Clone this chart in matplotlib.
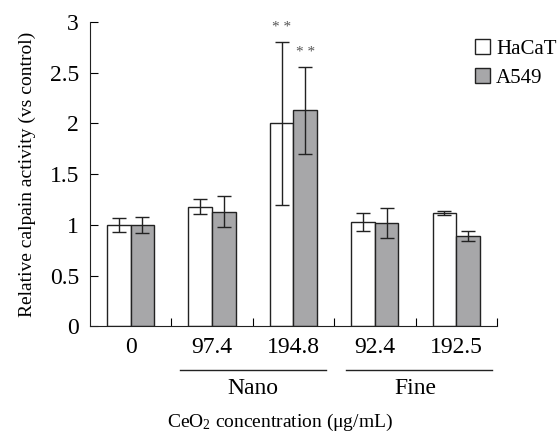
import numpy as np
import matplotlib
matplotlib.use('Agg')
import matplotlib.pyplot as plt

plt.rcParams['font.family'] = ['Liberation Serif', 'DejaVu Serif']
plt.rcParams['mathtext.fontset'] = 'custom'
plt.rcParams['mathtext.rm'] = 'Liberation Serif'
plt.rcParams['mathtext.it'] = 'Liberation Serif:italic'

labels = ['0', '97.4', '194.8', '92.4', '192.5']
hacat = [1.0, 1.18, 2.0, 1.03, 1.12]
hacat_err = [0.07, 0.07, 0.80, 0.09, 0.02]
a549 = [1.0, 1.13, 2.13, 1.02, 0.89]
a549_err = [0.08, 0.15, 0.43, 0.15, 0.05]
stars = ['', '', '**', '', '']

fig = plt.figure(figsize=(5.59, 4.42), dpi=100)
ax = fig.add_axes([0.161, 0.262, 0.728, 0.688])

x = np.arange(len(labels))
w = 0.29
ekw = dict(elinewidth=1, capthick=1, ecolor='#222222')
ax.bar(x - w / 2, hacat, w, yerr=hacat_err, capsize=5, color='white',
       edgecolor='#222222', linewidth=1, error_kw=ekw, label='HaCaT')
ax.bar(x + w / 2, a549, w, yerr=a549_err, capsize=5, color='#a7a7a9',
       edgecolor='#222222', linewidth=1, error_kw=ekw, label='A549')

for i, s in enumerate(stars):
    if s:
        ax.text(x[i] - w / 2, hacat[i] + hacat_err[i] + 0.08, '* *', ha='center',
                va='bottom', fontsize=11, color='#555555')
        ax.text(x[i] + w / 2, a549[i] + a549_err[i] + 0.08, '* *', ha='center',
                va='bottom', fontsize=11, color='#555555')

ax.set_xlim(-0.5, 4.5)
ax.set_ylim(0, 3)
ax.set_yticks([0, 0.5, 1, 1.5, 2, 2.5, 3])
ax.set_yticklabels(['0', '0.5', '1', '1.5', '2', '2.5', '3'])
ax.tick_params(axis='y', direction='in', length=6, labelsize=17, pad=8)

# boundary ticks pointing up, labels at group centres
ax.set_xticks(np.arange(0.5, 5, 1))
ax.set_xticklabels([])
ax.tick_params(axis='x', which='major', direction='in', length=6)
ax.set_xticks(x, minor=True)
ax.set_xticklabels(labels, minor=True)
ax.tick_params(axis='x', which='minor', length=0, labelsize=17, pad=8)

for sp in ['top', 'right']:
    ax.spines[sp].set_visible(False)
for sp in ['left', 'bottom']:
    ax.spines[sp].set_color('#222222')

# group brackets
tr = ax.get_xaxis_transform()
ax.plot([0.61, 2.40], [-0.145, -0.145], color='#222222', lw=1, transform=tr, clip_on=False)
ax.plot([2.64, 4.44], [-0.145, -0.145], color='#222222', lw=1, transform=tr, clip_on=False)
ax.text(1.5, -0.205, 'Nano', transform=tr, ha='center', va='center', fontsize=17)
ax.text(3.5, -0.205, 'Fine', transform=tr, ha='center', va='center', fontsize=17)

fig.text(0.5, 0.045, r'CeO$_2$ concentration (μg/mL)', ha='center', va='center', fontsize=14)
ax.set_ylabel('Relative calpain activity (vs control)', fontsize=14, labelpad=10)

fig.legend(loc='upper left', bbox_to_anchor=(0.835, 0.93), frameon=False,
           fontsize=15, handlelength=0.7, handleheight=0.7, handletextpad=0.3,
           labelspacing=0.45, borderaxespad=0)

fig.savefig('out.png', dpi=100)
